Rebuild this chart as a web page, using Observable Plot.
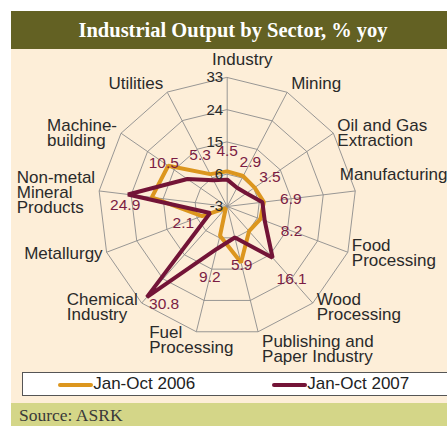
<!DOCTYPE html>
<html>
<head>
<meta charset="utf-8">
<script src="https://cdn.jsdelivr.net/npm/d3@7"></script>
<script src="https://cdn.jsdelivr.net/npm/@observablehq/plot@0.6"></script>
<style>
  html, body { margin: 0; padding: 0; background: #ffffff; }
  #wrap { position: absolute; left: 11px; top: 11px; width: 436px; height: 415px; overflow: hidden; }
  #title { height: 38px; background: #636123; color: #ffffff; font: bold 20.5px "Liberation Serif", serif;
           display: flex; align-items: center; justify-content: center; padding-left: 8px; box-sizing: border-box; }
  #chart { background: #fdeed8; height: 318px; }
  #chart svg { display: block; }
  #legwrap { background: #fdeed8; height: 36px; position: relative; }
  #legend { position: absolute; left: 10.7px; top: 4.7px; width: 440px; height: 24.3px; box-sizing: border-box;
            background: #ffffff; border: 1px solid #555555; font: 17px "Liberation Sans", Arial, sans-serif; color: #222; }
  .sw { position: absolute; top: 10.5px; width: 35px; height: 4px; border-radius: 2px; }
  .lt { position: absolute; top: 1px; line-height: 20px; }
  #source { height: 23px; background: #d4d688; font: 17.5px "Liberation Serif", serif; color: #3a3a3a;
            padding: 2px 0 0 8px; line-height: 21px; box-sizing: border-box; }
</style>
</head>
<body>
<div id="wrap">
  <div id="title">Industrial Output by Sector, % yoy</div>
  <div id="chart"></div>
  <div id="legwrap"><div id="legend"></div></div>
  <div id="source">Source: ASRK</div>
</div>
<script>
// ---- data ----
const categories = ["Industry", "Mining", "Oil and Gas\nExtraction", "Manufacturing", "Food\nProcessing",
  "Wood\nProcessing", "Publishing and\nPaper Industry", "Fuel\nProcessing", "Chemical\nIndustry",
  "Metallurgy", "Non-metal\nMineral\nProducts", "Machine-\nbuilding", "Utilities"];
const series = ["Jan-Oct 2006", "Jan-Oct 2007"];
const values2006 = [6.8, 6.6, 6.3, 7.3, 6.9, 6.2, 13.1, 5.4, -2.4, 4.5, 18.2, 17.0, 7.2];
const values2007 = [4.5, 2.9, 3.5, 6.9, 8.2, 16.1, 5.9, 9.2, 30.8, 2.1, 24.9, 10.5, 5.3];
const ticks = [-3, 6, 15, 24, 33];

// ---- geometry / styling ----
const colors = ["#dc961e", "#731437"];
const W = 436, H = 318, CX = 215.7, CY = 157, R = 129;
const vmin = ticks[0], vmax = ticks[ticks.length - 1];
const K = R / (vmax - vmin); // px per unit
const N = categories.length;
const ang = i => i * 2 * Math.PI / N;
const toXY = (i, v) => ({x: (v - vmin) * Math.sin(ang(i)), y: (v - vmin) * Math.cos(ang(i))});

const rings = ticks.slice(1).flatMap(t => categories.map((c, i) => ({ring: t, ...toXY(i, t)})));
const spokes = categories.map((c, i) => { const p = toXY(i, vmax); return {x1: 0, y1: 0, x2: p.x, y2: p.y}; });
const line06 = categories.map((c, i) => toXY(i, values2006[i]));
const line07 = categories.map((c, i) => toXY(i, values2007[i]));

// value labels (2007): outside the point, or beside it for the long spikes
const valLabels = values2007.map((v, i) => {
  const s = Math.sin(ang(i)), co = Math.cos(ang(i));
  if (v > 20) {
    const p = toXY(i, v);
    // screen-space perpendicular to the spoke: (-co, -s) with y pointing down
    const offX = -co * 23, offY = -s * 11;
    return {x: p.x + offX / K, y: p.y - offY / K, text: v.toFixed(1)};
  }
  const p = toXY(i, v + 8);
  return {x: p.x, y: p.y, text: v.toFixed(1)};
});

// category labels placed outside the outer ring
const catFont = 17, lineH = 15, pad = 4;
const ctx = document.createElement("canvas").getContext("2d");
ctx.font = `${catFont}px "Liberation Sans", Arial, sans-serif`;
const catLabels = categories.map((c, i) => {
  const lines = c.split("\n");
  const w = Math.max(...lines.map(l => ctx.measureText(l).width));
  const h = lines.length * lineH;
  const s = Math.sin(ang(i)), co = Math.cos(ang(i));
  const vx = R * s, vy = -R * co; // px, screen coordinates relative to center
  let left;
  let cyb = vy - Math.sign(co) * Math.pow(co, 6) * (h / 2 + 8) + 4 * (1 - co * co);
  if (s > 0.2) left = vx + pad;
  else if (s < -0.3) left = vx - w - pad;
  else if (co > 0) left = vx - w * 0.25;
  else { left = vx - w * 0.56; cyb = vy + h / 2 - 4; }
  const rightBound = W - CX, leftBound = -CX;
  if (left + w > rightBound) { left = rightBound - w; cyb = vy - h / 2 - 6.5; }
  if (left < leftBound) left = leftBound;
  const top = cyb - h / 2;
  return {x: left / K, y: -top / K, text: c};
});

const chart = Plot.plot({
  width: W, height: H, margin: 0,
  x: {domain: [-CX / K, (W - CX) / K], axis: null},
  y: {domain: [-(H - CY) / K, CY / K], axis: null},
  style: {background: "transparent", fontFamily: '"Liberation Sans", Arial, sans-serif', overflow: "visible"},
  marks: [
    Plot.line(rings, {x: "x", y: "y", z: "ring", curve: "linear-closed", stroke: "#8c8c8c", strokeWidth: 0.9}),
    Plot.link(spokes, {x1: "x1", y1: "y1", x2: "x2", y2: "y2", stroke: "#8c8c8c", strokeWidth: 0.9}),
    Plot.line(line06, {x: "x", y: "y", curve: "linear-closed", stroke: colors[0], strokeWidth: 4, strokeLinejoin: "miter"}),
    Plot.line(line07, {x: "x", y: "y", curve: "linear-closed", stroke: colors[1], strokeWidth: 4, strokeLinejoin: "miter"}),
    Plot.text(ticks, {x: 0, y: t => t - vmin, text: t => String(t), textAnchor: "end", dx: -4, fontSize: 15, fill: "#2a2a2a"}),
    Plot.text(valLabels, {x: "x", y: "y", text: "text", fontSize: 15.5, fill: "#7b1c43"}),
    Plot.text(catLabels, {x: "x", y: "y", text: "text", textAnchor: "start", lineAnchor: "top",
      lineHeight: lineH / catFont, fontSize: catFont, fill: "#2a2a2a"})
  ]
});
document.getElementById("chart").appendChild(chart);

// legend
const leg = document.getElementById("legend");
const swX = [35.3, 249.3], txX = [70.5, 284.5];
series.forEach((s, k) => {
  const sw = document.createElement("div");
  sw.className = "sw"; sw.style.left = swX[k] + "px"; sw.style.background = colors[k];
  const t = document.createElement("div");
  t.className = "lt"; t.style.left = txX[k] + "px"; t.textContent = s;
  leg.appendChild(sw); leg.appendChild(t);
});
</script>
</body>
</html>
